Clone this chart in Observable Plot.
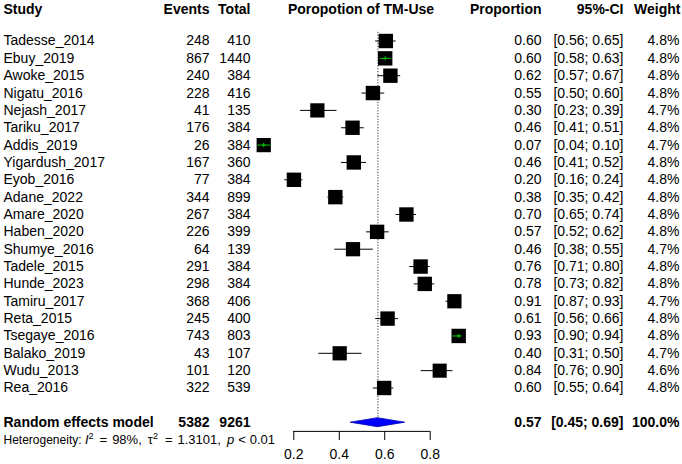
<!DOCTYPE html>
<html><head><meta charset="utf-8">
<script src="https://cdn.jsdelivr.net/npm/d3@7"></script>
<script src="https://cdn.jsdelivr.net/npm/@observablehq/plot@0.6"></script>
<style>
body{margin:0;background:#fff;}
#chart svg{display:block;}
</style></head><body><div id="chart"></div>
<script>
const studies = ["Tadesse_2014","Ebuy_2019","Awoke_2015","Nigatu_2016","Nejash_2017","Tariku_2017","Addis_2019","Yigardush_2017","Eyob_2016","Adane_2022","Amare_2020","Haben_2020","Shumye_2016","Tadele_2015","Hunde_2023","Tamiru_2017","Reta_2015","Tsegaye_2016","Balako_2019","Wudu_2013","Rea_2016"];
const events = [248,867,240,228,41,176,26,167,77,344,267,226,64,291,298,368,245,743,43,101,322];
const totals = [410,1440,384,416,135,384,384,360,384,899,384,399,139,384,384,406,400,803,107,120,539];
const proportions = [0.60,0.60,0.62,0.55,0.30,0.46,0.07,0.46,0.20,0.38,0.70,0.57,0.46,0.76,0.78,0.91,0.61,0.93,0.40,0.84,0.60];
const ciLower = [0.56,0.58,0.57,0.50,0.23,0.41,0.04,0.41,0.16,0.35,0.65,0.52,0.38,0.71,0.73,0.87,0.56,0.90,0.31,0.76,0.55];
const ciUpper = [0.65,0.63,0.67,0.60,0.39,0.51,0.10,0.52,0.24,0.42,0.74,0.62,0.55,0.80,0.82,0.93,0.66,0.94,0.50,0.90,0.64];
const weights = [4.8,4.8,4.8,4.8,4.7,4.8,4.7,4.8,4.8,4.8,4.8,4.8,4.7,4.8,4.8,4.7,4.8,4.8,4.7,4.6,4.8];

const pooledLabel = "Random effects model";
const pooledEvents = 5382;
const pooledTotal = 9261;
const pooledEst = 0.57;
const pooledLower = 0.45;
const pooledUpper = 0.69;
const pooledWeight = 100.0;

const hetI2 = "98%";
const hetTau2 = "1.3101";
const hetP = "< 0.01";

const headers = ["Study","Events","Total","Poropotion of TM-Use","Proportion","95%-CI","Weight"];
const axisTicks = [0.2, 0.4, 0.6, 0.8];

// layout
const W = 682, H = 464;
const xDomain = [0.2, 0.8], xRange = [293.3, 429.7];
const rowTop = 40.5, rowStep = 17.35;
const nRows = studies.length;
const font = "'Liberation Sans', Arial, Helvetica, sans-serif";
const boxSide = 14.4;
const green = "#00c000";

const xs = d3.scaleLinear(xDomain, xRange);

const rows = studies.map((s, i) => ({
  i, study: s, events: events[i], total: totals[i],
  prop: proportions[i], est: events[i] / totals[i],
  lo: ciLower[i], hi: ciUpper[i], w: weights[i],
  side: boxSide * Math.sqrt(weights[i] / 4.8)
}));
const tol = 0.6;
const inside = rows.filter(d => xs(d.lo) >= xs(d.est) - d.side / 2 - tol && xs(d.hi) <= xs(d.est) + d.side / 2 + tol);

const headerRow = -1.82, pooledRow = nRows + 1, hetRow = nRows + 2, axisRow = nRows + 1.5;

const colText = (data, y, text, dx, anchor, bold, size = 14) =>
  Plot.text(data, {y, text, frameAnchor: "left", dx, textAnchor: anchor,
    fontSize: size, fontWeight: bold ? "bold" : "normal", fill: "#000"});

const pooledData = [{
  y: pooledRow, label: pooledLabel, events: pooledEvents, total: pooledTotal,
  est: pooledEst, lo: pooledLower, hi: pooledUpper, w: pooledWeight
}];

const headerPos = [[3,"start"],[209,"end"],[250,"end"],[360.5,"middle"],[541,"end"],[623,"end"],[680,"end"]];
const headerData = headers.map((h, k) => ({h, dx: headerPos[k][0], a: headerPos[k][1]}));

const marks = [
  // reference (dotted) line at pooled estimate
  Plot.ruleX([pooledEst], {x: d => d, y1: -0.5, y2: pooledRow, stroke: "#333", strokeWidth: 1, strokeDasharray: "1.2,1.6"}),
  // CIs
  Plot.ruleY(rows, {y: "i", x1: "lo", x2: "hi", stroke: "#000", strokeWidth: 1}),
  // boxes
  Plot.dot(rows, {x: "est", y: "i", r: d => d.side / Math.sqrt(Math.PI), symbol: "square", fill: "#000", stroke: "none"}),
  // CIs inside the boxes
  Plot.ruleY(inside, {y: "i", x1: "lo", x2: "hi", stroke: green, strokeWidth: 1}),
  Plot.dot(inside, {x: "est", y: "i", r: 1.5, symbol: "plus", stroke: green, strokeWidth: 1}),
  // pooled diamond
  (index, scales) => {
    const x = scales.x, y = scales.y, yc = y(pooledRow), h = 4.5;
    return d3.create("svg:path")
      .attr("d", `M${x(pooledLower)},${yc}L${x(pooledEst)},${yc - h}L${x(pooledUpper)},${yc}L${x(pooledEst)},${yc + h}Z`)
      .attr("fill", "#0000ff").attr("stroke", "#0000b0").attr("stroke-width", 0.8).node();
  },
  // axis line
  Plot.ruleY([axisRow], {y: d => d, x1: axisTicks[0], x2: axisTicks[axisTicks.length - 1], stroke: "#000", strokeWidth: 1}),
];

// headers
for (const hd of headerData) marks.push(colText([hd], () => headerRow, d => d.h, hd.dx, hd.a, true));
// study rows
marks.push(colText(rows, "i", "study", 3, "start", false));
marks.push(colText(rows, "i", d => String(d.events), 209, "end", false));
marks.push(colText(rows, "i", d => String(d.total), 250, "end", false));
marks.push(colText(rows, "i", d => d.prop.toFixed(2), 541, "end", false));
marks.push(colText(rows, "i", d => `[${d.lo.toFixed(2)}; ${d.hi.toFixed(2)}]`, 623, "end", false));
marks.push(colText(rows, "i", d => `${d.w.toFixed(1)}%`, 679, "end", false));
// pooled row
marks.push(colText(pooledData, "y", "label", 3, "start", true));
marks.push(colText(pooledData, "y", d => String(d.events), 209, "end", true));
marks.push(colText(pooledData, "y", d => String(d.total), 250, "end", true));
marks.push(colText(pooledData, "y", d => d.est.toFixed(2), 541, "end", true));
marks.push(colText(pooledData, "y", d => `[${d.lo.toFixed(2)}; ${d.hi.toFixed(2)}]`, 623, "end", true));
marks.push(colText(pooledData, "y", d => `${d.w.toFixed(1)}%`, 679, "end", true));
// heterogeneity
marks.push(colText([hetRow], d => d, () => `Heterogeneity: I2 = ${hetI2}, τ2 = ${hetTau2}, p ${hetP}`, 3, "start", false, 12));

const chart = Plot.plot({
  width: W, height: H,
  marginLeft: 0, marginRight: 0, marginTop: 0, marginBottom: 33,
  style: {fontFamily: font, fontSize: "14px", background: "#fff", color: "#000", overflow: "visible"},
  x: {domain: xDomain, range: xRange, ticks: axisTicks, tickFormat: d => d.toFixed(1), tickSize: 9, tickPadding: 9, label: null, axis: "bottom"},
  y: {type: "linear", domain: [0, nRows - 1], range: [rowTop, rowTop + rowStep * (nRows - 1)], axis: null},
  r: {type: "identity"},
  marks
});
document.getElementById("chart").appendChild(chart);

// rich heterogeneity text (italic + superscripts)
const ns = "http://www.w3.org/2000/svg";
const het = [...chart.querySelectorAll("text")].find(t => t.textContent.startsWith("Heterogeneity"));
if (het) {
  het.textContent = "";
  const add = (s, attrs = {}) => {
    const ts = document.createElementNS(ns, "tspan");
    ts.textContent = s;
    for (const k in attrs) ts.setAttribute(k, attrs[k]);
    het.appendChild(ts);
    return ts;
  };
  const m = "13px", sup = "9px";
  add("Heterogeneity: ");
  add("I", {"font-style": "italic", "font-size": m});
  add("2", {dy: "-5", "font-size": sup});
  add("=", {dy: "5", dx: "6", "font-size": m});
  add(`${hetI2},`, {dx: "5", "font-size": m});
  add("τ", {dx: "6", "font-size": m});
  add("2", {dy: "-5", "font-size": sup});
  add("=", {dy: "5", dx: "7", "font-size": m});
  add(`${hetTau2},`, {dx: "5", "font-size": m});
  add("p", {"font-style": "italic", dx: "6", "font-size": m});
  add(hetP.split(" ")[0], {dx: "4", "font-size": m});
  add(hetP.split(" ")[1], {dx: "4", "font-size": m});
}
</script></body></html>
